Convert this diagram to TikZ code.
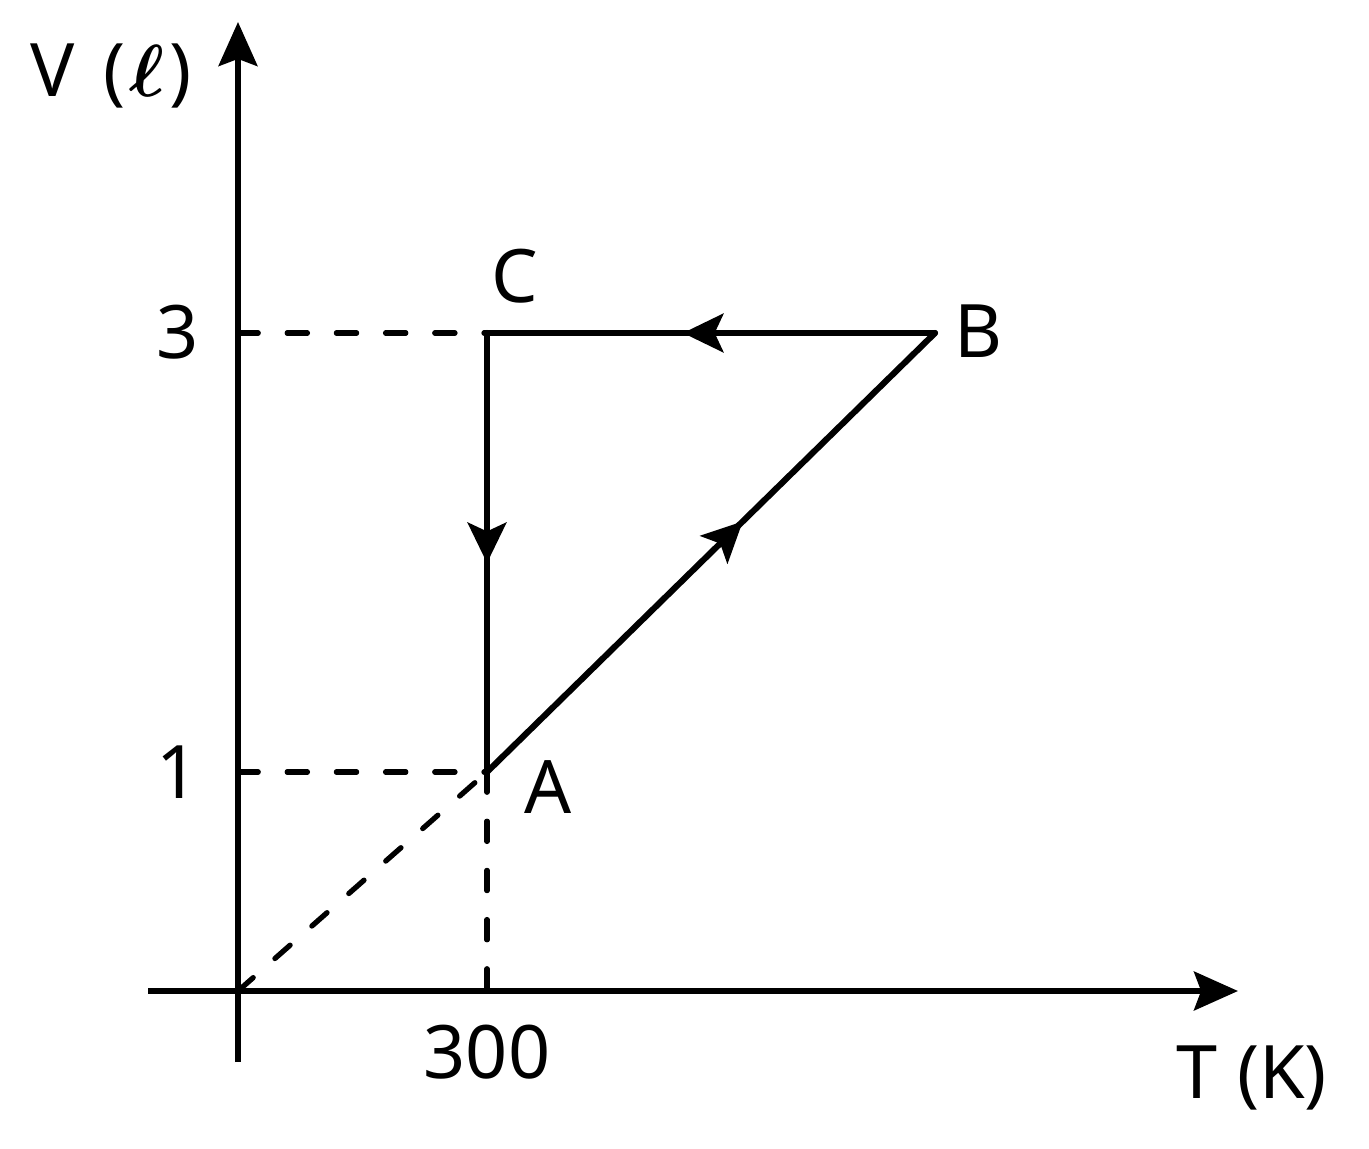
\RequirePackage{fix-cm}
\documentclass[tikz,border=0pt]{standalone}
\usepackage{fontspec}
\setmainfont{Noto Sans}
\usetikzlibrary{arrows.meta,decorations.markings}
\begin{document}
\begin{tikzpicture}[x=0.02cm,y=-0.02cm,
  lbl/.style={font=\fontsize{42}{50}\selectfont, inner sep=0pt, anchor=base},
  axis/.style={line width=3.5pt,-{Stealth[length=25pt,width=22pt,inset=4pt]}},
  cyc/.style={line width=3.5pt, line join=round, line cap=round},
  guide/.style={line width=3pt, dash pattern=on 11.5pt off 16.5pt, line cap=round},
  midarrow/.style={postaction={decorate},decoration={markings,
    mark=at position #1 with {\arrow{Stealth[length=23pt,width=22pt,inset=5pt]}}}}]
\useasboundingbox (0,0) rectangle (1369,1149);
% points
\coordinate (O) at (238,991);
\coordinate (A) at (487,772);
\coordinate (B) at (935,333);
\coordinate (C) at (487,333);
\coordinate (Y3) at (238,333);
\coordinate (Y1) at (238,772);
\coordinate (X300) at (487,991);
\coordinate (ybot) at (238,1062);
\coordinate (ytop) at (238,22);
\coordinate (xleft) at (148,991);
\coordinate (xright) at (1238,991);
% guides
\draw[guide] (Y3) -- (C);
\draw[guide] (Y1) -- (A);
\draw[guide] (A) -- (X300);
\draw[guide] (O) -- (A);
% axes
\draw[axis] (ybot) -- (ytop);
\draw[axis] (xleft) -- (xright);
% cycle
\draw[cyc, midarrow=0.5625] (B) -- (C);
\draw[cyc, midarrow=0.524] (C) -- (A);
\draw[cyc, midarrow=0.571] (A) -- (B);
% labels
\node[lbl] (lV) at (111,97) {V\hspace{0.12em} (\hspace{0.06em}{\boldmath$\ell$}\hspace{0.06em})};
\node[lbl] (lT) at (1252,1098) {T (K)};
\node[lbl] (l3) at (178,358) {3};
\node[lbl] (l1) at (178,798) {1};
\node[lbl] (l300) at (487,1078) {300};
\node[lbl] (lC) at (515,302) {C};
\node[lbl] (lB) at (978,357) {B};
\node[lbl] (lA) at (548,813) {A};
\end{tikzpicture}
\end{document}
